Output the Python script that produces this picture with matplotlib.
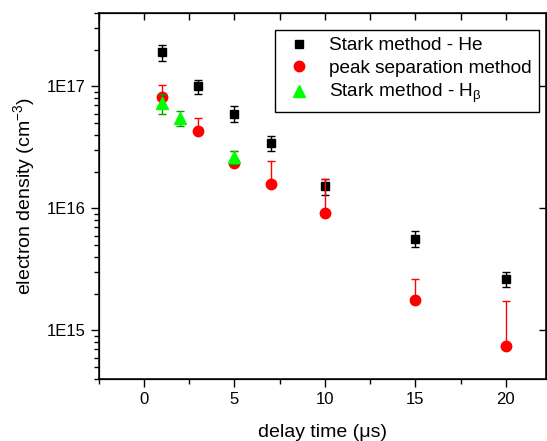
import matplotlib
matplotlib.use("Agg")
import matplotlib.pyplot as plt
from matplotlib.ticker import FixedLocator, FixedFormatter, LogLocator, MultipleLocator, NullFormatter

plt.rcParams["font.family"] = ["Liberation Sans", "DejaVu Sans"]
plt.rcParams["mathtext.fontset"] = "custom"
plt.rcParams["mathtext.rm"] = "Liberation Sans"
plt.rcParams["mathtext.it"] = "Liberation Sans:italic"

# Stark method - He
he_t = [1, 3, 5, 7, 10, 15, 20]
he_n = [1.91e17, 1.0e17, 6.0e16, 3.45e16, 1.52e16, 5.67e15, 2.65e15]
he_err = [0.28e17, 0.14e17, 0.9e16, 0.48e16, 0.24e16, 0.83e15, 0.39e15]

# peak separation method (upper error only)
ps_t = [1, 3, 5, 7, 10, 15, 20]
ps_n = [8.2e16, 4.3e16, 2.37e16, 1.59e16, 9.1e15, 1.77e15, 7.4e14]
ps_err_up = [2.0e16, 1.23e16, 0.6e16, 0.87e16, 8.5e15, 0.85e15, 9.9e14]

# Stark method - H beta
hb_t = [1, 2, 5]
hb_n = [7.35e16, 5.53e16, 2.65e16]
hb_err = [1.35e16, 0.8e16, 0.32e16]

y_ticks = [1e15, 1e16, 1e17]
y_tick_labels = ["1E15", "1E16", "1E17"]

fig = plt.figure(figsize=(5.47, 4.41), dpi=100)
ax = fig.add_axes([0.1804, 0.1406, 0.8186, 0.8299])

ax.errorbar(he_t, he_n, yerr=he_err, fmt="none", ecolor="black",
            elinewidth=1, capsize=3, capthick=1, zorder=2)
h1, = ax.plot(he_t, he_n, "s", color="black", ms=6, zorder=3,
              label="Stark method - He")

ax.errorbar(ps_t, ps_n, yerr=[[0] * len(ps_n), ps_err_up], fmt="none",
            ecolor="red", elinewidth=1, capsize=3, capthick=1, zorder=4)
h2, = ax.plot(ps_t, ps_n, "o", color="red", ms=7.5, zorder=5,
              label="peak separation method")

ax.errorbar(hb_t, hb_n, yerr=hb_err, fmt="none", ecolor="#00a000",
            elinewidth=1, capsize=3, capthick=1, zorder=6)
h3, = ax.plot(hb_t, hb_n, "^", color="#00ff00", ms=9, zorder=7,
              label="Stark method - H$_{\\mathregular{β}}$")

ax.set_yscale("log")
ax.set_xlim(-2.5, 22.25)
ax.set_ylim(4e14, 4e17)

ax.xaxis.set_major_locator(MultipleLocator(5))
ax.xaxis.set_minor_locator(MultipleLocator(2.5))
ax.yaxis.set_major_locator(FixedLocator(y_ticks))
ax.yaxis.set_major_formatter(FixedFormatter(y_tick_labels))
ax.yaxis.set_minor_locator(LogLocator(base=10, subs=range(2, 10)))
ax.yaxis.set_minor_formatter(NullFormatter())

ax.tick_params(which="major", direction="out", length=6, width=1, labelsize=12)
ax.tick_params(which="minor", direction="out", length=3.5, width=1)

for s in ax.spines.values():
    s.set_linewidth(1.1)

# top axis: inward ticks, no labels
top = ax.twiny()
top.set_xlim(ax.get_xlim())
top.xaxis.set_major_locator(MultipleLocator(2.5))
top.tick_params(axis="x", direction="in", length=5, width=1, labeltop=False)
top.tick_params(axis="y", left=False, right=False, labelleft=False, labelright=False)

# right axis: inward major ticks only
right = ax.twinx()
right.set_yscale("log")
right.set_ylim(ax.get_ylim())
right.yaxis.set_major_locator(FixedLocator(y_ticks))
right.yaxis.set_minor_locator(FixedLocator([]))
right.tick_params(axis="y", direction="in", length=5, width=1, labelright=False)

ax.set_xlabel("delay time (μs)", fontsize=14, labelpad=12)
ax.set_ylabel("electron density (cm$^{\\mathregular{-3}}$)", fontsize=14, labelpad=7)

leg = ax.legend(handles=[h1, h2, h3], loc="upper right",
                bbox_to_anchor=(0.984, 0.954), borderaxespad=0,
                fontsize=13.7, numpoints=1, handlelength=1.84,
                handletextpad=0.66, labelspacing=0.27, borderpad=0.38,
                fancybox=False, framealpha=1, edgecolor="black")
leg.get_frame().set_linewidth(1)
leg.set_zorder(10)

fig.savefig("out.png", dpi=100)
